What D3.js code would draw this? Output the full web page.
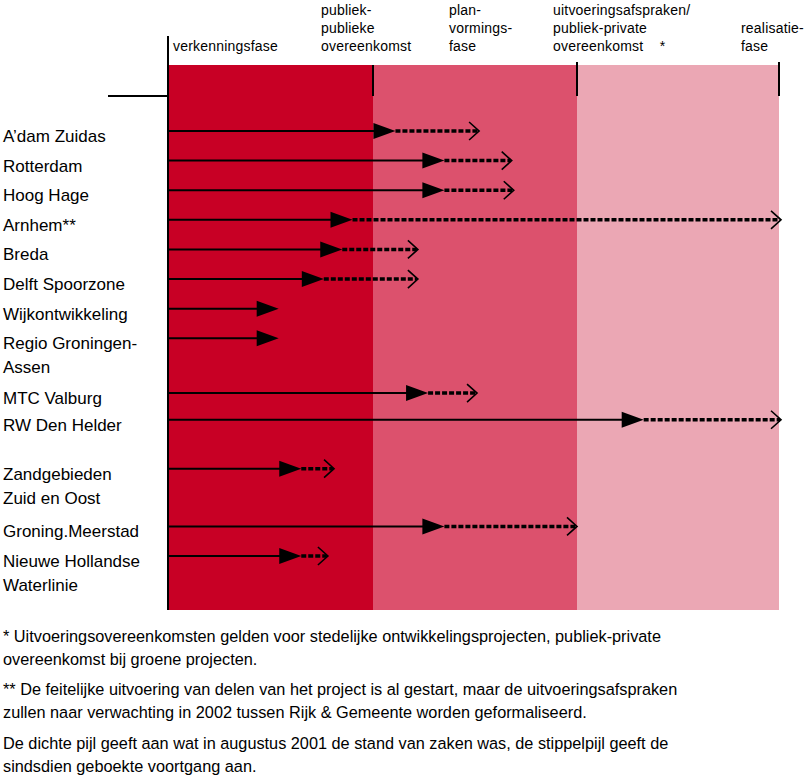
<!DOCTYPE html>
<html><head><meta charset="utf-8">
<script src="https://cdn.jsdelivr.net/npm/d3@7"></script>
<style>
body{margin:0;background:#fff;}
text{font-family:"Liberation Sans",Arial,sans-serif;fill:#000;white-space:pre;}
</style></head>
<body><svg id="c" width="806" height="775"></svg>
<script>
// Phases (header labels)
const phaseLabels = [
  ["verkenningsfase"],
  ["publiek-","publieke","overeenkomst"],
  ["plan-","vormings-","fase"],
  ["uitvoeringsafspraken/","publiek-private","overeenkomst    *"],
  ["realisatie-","fase"]
];
const phaseColors = ["#C80025","#DC516D","#EBA7B4"];

// Projects
const projects = [
  ["A\u2019dam Zuidas"],["Rotterdam"],["Hoog Hage"],["Arnhem**"],["Breda"],["Delft Spoorzone"],
  ["Wijkontwikkeling"],["Regio Groningen-","Assen"],["MTC Valburg"],["RW Den Helder"],
  ["Zandgebieden","Zuid en Oost"],["Groning.Meerstad"],["Nieuwe Hollandse","Waterlinie"]
];
// row slot (ordinal position incl. gaps)
const rowSlot = [0,1,2,3,4,5,6,7,8.85,9.75,11.4,13.35,14.35];
// phase progress in August 2001 (solid arrow), in phase units
const status2001 = [1.11,1.35,1.35,0.90,0.85,0.76,0.54,0.54,1.27,2.33,0.65,1.35,0.65];
// progress since (dashed arrow end), null = none
const statusNow = [1.52,1.68,1.69,3.01,1.22,1.22,null,null,1.51,3.01,0.81,2.0,0.78];

const footnotes = [
  ["* Uitvoeringsovereenkomsten gelden voor stedelijke ontwikkelingsprojecten, publiek-private",
   "overeenkomst bij groene projecten."],
  ["** De feitelijke uitvoering van delen van het project is al gestart, maar de uitvoeringsafspraken",
   "zullen naar verwachting in 2002 tussen Rijk & Gemeente worden geformaliseerd."],
  ["De dichte pijl geeft aan wat in augustus 2001 de stand van zaken was, de stippelpijl geeft de",
   "sindsdien geboekte voortgang aan."]
];

const svg = d3.select("#c");
const x = d3.scaleLinear().domain([0,1,2,3]).range([168,373,577,779]);
const y = d3.scaleLinear().domain([0,14.35]).range([131,556]);
const bandTop = 65, bandBottom = 610;

// bands
svg.selectAll("rect.band").data(phaseColors).join("rect")
  .attr("x",(d,i)=>x(i)).attr("y",bandTop)
  .attr("width",(d,i)=>x(i+1)-x(i)).attr("height",bandBottom-bandTop)
  .attr("fill",d=>d);

// header lines
svg.append("line").attr("x1",108).attr("x2",x(0)).attr("y1",96).attr("y2",96)
  .attr("stroke","#000").attr("stroke-width",2);
svg.append("line").attr("x1",x(0)).attr("x2",x(0)).attr("y1",36).attr("y2",bandBottom)
  .attr("stroke","#000").attr("stroke-width",2);
[1,2,3].forEach(i=>{
  svg.append("line").attr("x1",x(i)).attr("x2",x(i)).attr("y1",i===1?bandTop:62).attr("y2",96)
    .attr("stroke","#000").attr("stroke-width",2);
});

// header labels
const headerX = [173,321,449,553,741];
phaseLabels.forEach((lines,i)=>{
  const n = lines.length;
  const t = svg.append("text").attr("font-size",14).attr("letter-spacing",0.2);
  lines.forEach((s,j)=>{
    t.append("tspan").attr("x",headerX[i]).attr("y",51 - (n-1-j)*18).text(s);
  });
});

// project labels
projects.forEach((lines,i)=>{
  const t = svg.append("text").attr("font-size",17);
  lines.forEach((s,j)=>{
    t.append("tspan").attr("x",3).attr("y",y(rowSlot[i])+11+j*24).text(s);
  });
});

// arrows
const g = svg.append("g");
projects.forEach((p,i)=>{
  const yy = y(rowSlot[i]);
  const tip = x(status2001[i]);
  g.append("line").attr("x1",x(0)).attr("x2",tip-20).attr("y1",yy).attr("y2",yy)
    .attr("stroke","#000").attr("stroke-width",2);
  g.append("path").attr("d",`M${tip-22},${yy-8}L${tip},${yy}L${tip-22},${yy+8}Z`).attr("fill","#000");
  if(statusNow[i]!=null){
    const end = x(statusNow[i]);
    g.append("line").attr("x1",tip).attr("x2",end-1).attr("y1",yy).attr("y2",yy)
      .attr("stroke","#000").attr("stroke-width",3.5).attr("stroke-dasharray","5,2");
    g.append("path").attr("d",`M${end-10},${yy-9}L${end},${yy}L${end-10},${yy+9}`)
      .attr("fill","none").attr("stroke","#000").attr("stroke-width",1.6);
  }
});

// footnotes
const fnY = [642,695,749];
footnotes.forEach((lines,i)=>{
  const t = svg.append("text").attr("font-size",16.3);
  lines.forEach((s,j)=>{
    t.append("tspan").attr("x",3).attr("y",fnY[i]+j*23).text(s);
  });
});
</script></body></html>
